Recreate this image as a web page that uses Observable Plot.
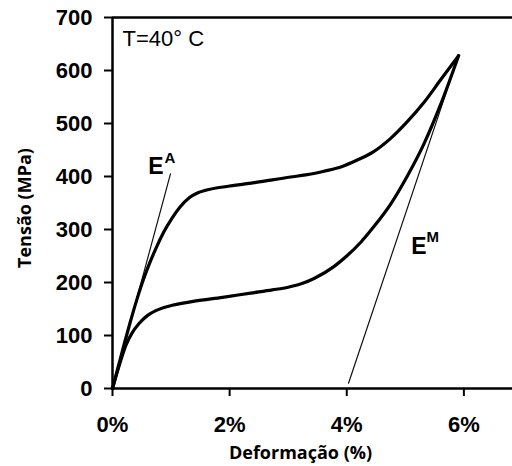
<!DOCTYPE html>
<html>
<head>
<meta charset="utf-8">
<script src="https://cdn.jsdelivr.net/npm/d3@7"></script>
<script src="https://cdn.jsdelivr.net/npm/@observablehq/plot@0.6"></script>
<style>
  html, body { margin: 0; padding: 0; background: #fff; }
  #chart svg { font-family: "Liberation Sans", Arial, sans-serif; }
</style>
</head>
<body>
<div id="chart"></div>
<script>
// Loading curve (upper branch): strain (%) and stress (MPa)
const loadStrain = [0, 0.1, 0.2, 0.3, 0.4, 0.51, 0.6, 0.74, 0.88, 1.02, 1.15, 1.31, 1.45, 1.59, 2.0, 2.45, 3.04, 3.3, 3.61, 3.9, 4.18, 4.46, 4.75, 5.03, 5.32, 5.6, 5.91];
const loadStress = [0, 42, 84, 124, 162, 200, 227, 264, 296, 322, 342, 360, 369, 374, 382, 389, 399, 403, 410, 418, 431, 447, 472, 503, 540, 582, 628];
// Unloading curve (lower branch)
const unloadStrain = [0, 0.1, 0.23, 0.33, 0.45, 0.6, 0.74, 0.88, 1.02, 1.4, 1.88, 2.36, 2.73, 3.0, 3.21, 3.45, 3.78, 4.0, 4.24, 4.46, 4.75, 5.03, 5.32, 5.6, 5.91];
const unloadStress = [0, 38, 82, 104, 122, 138, 147, 153, 157, 165, 172, 180, 186, 191, 197, 208, 230, 250, 276, 305, 348, 400, 462, 535, 628];
// Elastic modulus tangent lines
const tangentA = [{x: 0, y: 0}, {x: 0.99, y: 405}];
const tangentM = [{x: 4.03, y: 10}, {x: 5.91, y: 628}];
// Annotation labels (data coordinates)
const modLabels = [
  {x: 0.61, y: 404, base: "E", sup: "A", sx: 0.89, sy: 425},
  {x: 5.10, y: 254, base: "E", sup: "M", sx: 5.36, sy: 276}
];
const tempLabel = "T=40° C";
// Ticks and titles
const xTicks = [0, 2, 4, 6];
const yTicks = [0, 100, 200, 300, 400, 500, 600, 700];
const xTitle = "Deformação (%)";
const yTitle = "Tensão (MPa)";

const loadData = loadStrain.map((x, i) => ({x, y: loadStress[i]}));
const unloadData = unloadStrain.map((x, i) => ({x, y: unloadStress[i]}));

const chart = Plot.plot({
  width: 512,
  height: 466,
  marginLeft: 112,
  marginRight: 0,
  marginTop: 17,
  marginBottom: 78,
  x: {domain: [0, 6.83]},
  y: {domain: [0, 700]},
  marks: [
    Plot.line(tangentA, {x: "x", y: "y", stroke: "#111", strokeWidth: 1.2}),
    Plot.line(tangentM, {x: "x", y: "y", stroke: "#111", strokeWidth: 1.2}),
    Plot.line(loadData, {x: "x", y: "y", stroke: "#000", strokeWidth: 3.2, curve: "monotone-x"}),
    Plot.line(unloadData, {x: "x", y: "y", stroke: "#000", strokeWidth: 3.2, curve: "monotone-x"}),
    Plot.ruleY([0], {stroke: "#000", strokeWidth: 2.5}),
    Plot.ruleY([700], {stroke: "#000", strokeWidth: 2.5}),
    Plot.ruleX([0], {stroke: "#000", strokeWidth: 2.5}),
    Plot.axisY({ticks: yTicks, tickSize: 8, tickPadding: 12, fontSize: 22, fontWeight: "bold", strokeWidth: 2, label: null, tickFormat: d => String(d)}),
    Plot.axisX({ticks: xTicks, tickSize: 8, tickPadding: 20, fontSize: 22, fontWeight: "bold", strokeWidth: 2, label: null, tickFormat: d => d + "%"}),
    Plot.text(modLabels, {x: "x", y: "y", text: "base", textAnchor: "start", lineAnchor: "bottom", fontSize: 23, fontWeight: "bold", fill: "#000"}),
    Plot.text(modLabels, {x: "sx", y: "sy", text: "sup", textAnchor: "start", lineAnchor: "bottom", fontSize: 15, fontWeight: "bold", fill: "#000"}),
    Plot.text([tempLabel], {frameAnchor: "top-left", text: d => d, textAnchor: "start", lineAnchor: "top", dx: 10, dy: 13, fontSize: 22, fill: "#000"}),
    Plot.text([xTitle], {frameAnchor: "bottom", text: d => d, textAnchor: "middle", lineAnchor: "middle", dx: -12, dy: 65, fontSize: 18, fontWeight: "bold", fontFamily: "Open Sans", fill: "#000"}),
    Plot.text([yTitle], {frameAnchor: "left", text: d => d, textAnchor: "middle", rotate: -90, lineAnchor: "middle", dx: -87, dy: 5, fontSize: 18, fontWeight: "bold", fontFamily: "Open Sans", fill: "#000"})
  ]
});
document.getElementById("chart").appendChild(chart);
</script>
</body>
</html>
